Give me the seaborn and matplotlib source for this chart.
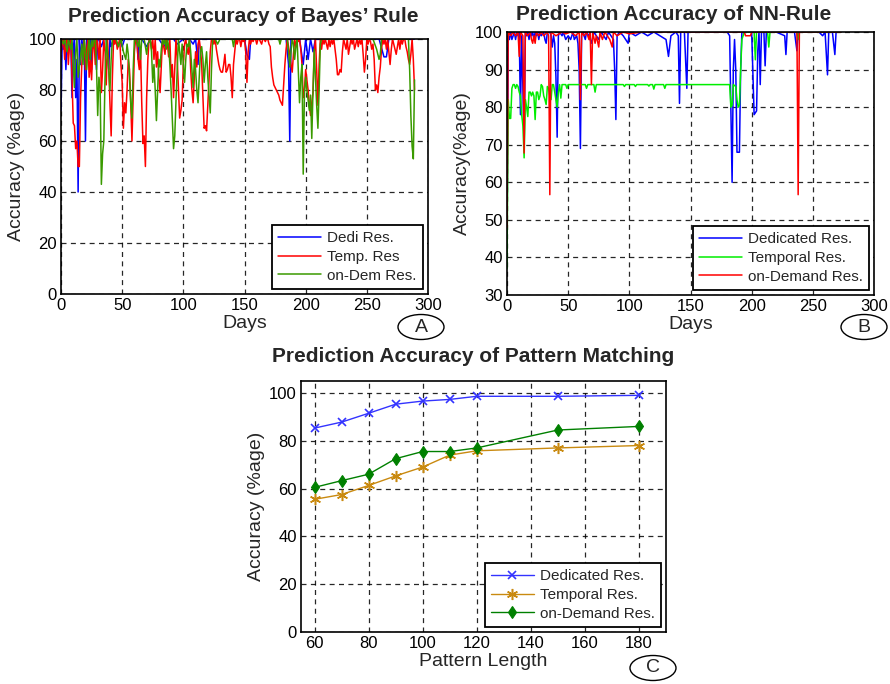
import numpy as np
import matplotlib
matplotlib.use("Agg")
import matplotlib.pyplot as plt
from matplotlib.patches import Ellipse
import seaborn as sns

sns.set_style("white")
plt.rcParams['font.family'] = ['Liberation Sans', 'DejaVu Sans']

# ---------------- panel A : Bayes' rule (value per day) ----------------
bayes_dedi_days = [0, 1, 2, 3, 4, 5, 6, 7, 8, 9, 10, 11, 12, 13, 14, 15, 16, 17, 18, 19,
                   20, 21, 22, 23, 24, 25, 26, 27, 28, 29, 30, 31, 33, 35, 37, 39, 40, 41,
                   43, 45, 48, 50, 52, 55, 58, 60, 62, 63, 64, 66, 70, 73, 76, 80, 84, 88,
                   92, 95, 100, 105, 108, 110, 112, 113, 115, 120, 125, 130, 140, 150, 152,
                   154, 155, 157, 160, 170, 180, 184, 186, 187, 188, 190, 195, 198, 200,
                   202, 204, 206, 208, 212, 220, 230, 240, 250, 260, 264, 266, 268, 270,
                   280, 289]
bayes_dedi = [72, 100, 96, 100, 88, 100, 94, 100, 100, 77, 95, 100, 77, 92, 40, 100, 90, 100, 96, 100,
              60, 100, 100, 92, 100, 88, 100, 100, 97, 88, 100, 100, 97, 100, 100, 88, 100, 97,
              100, 100, 100, 97, 100, 100, 100, 100, 100, 92, 100, 100, 97, 100, 100, 100, 97, 100,
              100, 98, 100, 100, 98, 100, 90, 100, 100, 100, 100, 100, 100, 100, 94,
              92, 100, 100, 100, 100, 100, 100, 90, 60, 100, 100, 100, 90, 100,
              92, 100, 95, 100, 100, 100, 100, 100, 100, 100, 93, 93, 100, 100,
              100, 100]

bayes_temp = [95, 98, 100, 92, 99, 100, 90, 98, 100, 85,
              67, 66, 57, 60, 50, 50, 77, 90, 95, 100,
              88, 96, 100, 85, 92, 84, 96, 100, 90, 100,
              98, 92, 100, 79, 88, 100, 95, 82, 100, 90,
              75, 62, 85, 100, 98, 100, 96, 98, 100, 90,
              83, 65, 75, 71, 80, 92, 88, 75, 60, 78,
              95, 100, 100, 92, 88, 96, 75, 59, 62, 50,
              77, 92, 100, 100, 96, 100, 92, 100, 89, 95,
              85, 79, 90, 100, 97, 94, 100, 98, 93, 100,
              85, 90, 77, 88, 100, 92, 80, 69, 72, 76,
              90, 98, 100, 96, 94, 100, 88, 80, 75, 85,
              95, 89, 98, 100, 96, 90, 78, 65, 66, 64,
              74, 84, 95, 100, 100, 98, 100, 96, 93, 90,
              88, 87, 87, 90, 94, 87, 88, 90, 90, 85,
              77, 90, 95, 100, 98, 100, 100, 97, 100, 99,
              100, 95, 83, 95, 100, 98, 100, 99, 100, 100,
              98, 100, 100, 99, 98, 100, 100, 99, 100, 100,
              98, 97, 89, 85, 82, 81, 80, 79, 78, 76,
              75, 74, 82, 90, 96, 100, 97, 94, 90, 87,
              94, 100, 97, 100, 99, 100, 96, 90, 77, 80,
              88, 84, 80, 74, 70, 75, 79, 95, 100, 88,
              74, 90, 100, 96, 100, 98, 100, 98, 96, 100,
              97, 100, 98, 100, 96, 92, 86, 86, 88, 87,
              95, 100, 98, 96, 100, 94, 97, 100, 98, 100,
              96, 98, 100, 97, 100, 98, 100, 94, 87, 92,
              100, 98, 100, 99, 96, 98, 92, 80, 82, 79,
              85, 89, 96, 100, 98, 100, 96, 100, 95, 90,
              96, 100, 98, 96, 94, 97, 100, 96, 100, 98,
              100, 100, 97, 95, 92, 90, 94, 100, 92, 80]
bayes_temp_days = np.arange(len(bayes_temp))

bayes_dem_days = [0, 2, 3, 5, 6, 8, 9, 10, 11, 12, 13, 14, 15, 16, 17, 18, 19, 20, 21, 22,
                  23, 24, 25, 26, 27, 28, 29, 30, 31, 32, 33, 34, 35, 36, 37, 38, 39, 40,
                  41, 42, 43, 45, 47, 49, 51, 53, 54, 55, 56, 57, 58, 59, 60, 61, 63, 64,
                  65, 66, 68, 70, 71, 73, 74, 75, 76, 77, 78, 79, 80, 81, 82, 83, 84, 85,
                  86, 87, 88, 89, 90, 91, 92, 93, 94, 95, 96, 97, 98, 99, 100, 101, 102,
                  103, 104, 105, 106, 107, 108, 109, 110, 111, 112, 113, 114, 115, 116,
                  117, 118, 119, 120, 121, 122, 123, 124, 126, 128, 130, 135, 140, 141,
                  142, 150, 160, 170, 178, 179, 180, 185, 186, 187, 188, 189, 190, 191,
                  192, 193, 194, 195, 196, 197, 198, 199, 200, 201, 202, 203, 204, 205,
                  206, 207, 208, 209, 210, 211, 212, 213, 220, 230, 240, 250, 255, 258,
                  260, 261, 262, 270, 280, 284, 285, 286, 287, 288, 289]
bayes_dem = [100, 98, 100, 95, 100, 96, 100, 90, 81, 95, 100, 85, 89, 93, 98, 90, 100, 95, 88, 96,
             100, 92, 100, 97, 100, 100, 90, 70, 85, 81, 43, 55, 60, 85, 100, 95, 88, 80,
             92, 100, 100, 100, 97, 100, 95, 92, 98, 94, 85, 75, 69, 88, 100, 100, 97, 100,
             92, 100, 100, 94, 98, 100, 95, 83, 90, 80, 68, 80, 92, 89, 96, 100, 98, 100,
             96, 100, 97, 90, 80, 68, 57, 62, 76, 88, 100, 95, 90, 98, 90, 83, 92,
             98, 97, 100, 95, 88, 81, 92, 88, 80, 75, 85, 95, 97, 92,
             83, 90, 95, 85, 78, 71, 88, 100, 100, 98, 100, 100, 100, 97,
             100, 100, 100, 100, 100, 98, 100, 100, 95, 89, 95, 100, 98, 92,
             97, 100, 88, 75, 85, 90, 47, 79, 85, 80, 76, 72, 78, 61,
             80, 96, 85, 74, 65, 80, 98, 100, 100, 100, 100, 100, 100, 96,
             92, 94, 100, 100, 100, 100, 88, 70, 58, 53, 84]

# ---------------- panel B : NN rule ----------------
nn_dedi_days = [0, 1, 2, 3, 4, 5, 6, 7, 8, 9, 10, 11, 12, 13, 14, 15, 16, 17, 18, 19, 20,
                21, 22, 23, 24, 25, 26, 27, 28, 30, 31, 32, 33, 35, 36, 37, 38, 39, 40, 41,
                42, 43, 45, 46, 48, 50, 52, 54, 55, 57, 58, 59, 60, 61, 62, 64, 65, 67, 69,
                71, 73, 75, 77, 79, 81, 83, 85, 87, 88, 89, 90, 92, 95, 97, 99, 100, 105,
                110, 115, 120, 125, 130, 132, 134, 138, 140, 141, 142, 145, 147, 148, 150,
                160, 170, 180, 182, 183, 184, 185, 186, 187, 188, 190, 191, 192, 200, 202,
                204, 205, 206, 207, 208, 210, 211, 212, 220, 227, 228, 229, 235, 237, 238,
                245, 255, 258, 260, 262, 263, 266, 268, 269, 273]
nn_dedi = [45, 99, 98, 100, 98, 99, 100, 98, 100, 99, 100, 78, 99, 85, 69, 100, 99, 100, 98, 100, 99,
           100, 98, 100, 99, 100, 98, 100, 99, 100, 98, 97, 100, 100, 99, 96, 99, 97, 88, 72,
           99, 100, 99, 100, 98, 99, 98, 100, 98, 99, 97, 90, 69, 99, 100, 98, 100, 99, 97,
           100, 99, 98, 100, 99, 98, 100, 99, 98, 90, 76.7, 99, 100, 99, 98, 97, 100, 99,
           100, 99, 100, 99, 98, 93.5, 99, 100, 99, 81, 100, 100, 85, 100, 100,
           100, 100, 100, 99, 80, 60, 90, 98, 90, 68, 68, 90, 100, 100, 78,
           79, 95, 100, 86, 100, 100, 91, 100, 100, 99, 94, 100, 100, 95, 100,
           100, 100, 99, 100, 88.6, 100, 100, 94, 100, 100]

nn_temp_days = [0, 1, 2, 3, 4, 5, 6, 7, 8, 9, 10, 11, 12, 13, 14, 15, 16, 17, 18, 19, 20,
                21, 22, 23, 24, 25, 26, 27, 28, 29, 30, 31, 32, 33, 34, 35, 36, 37, 38, 39,
                40, 41, 42, 43, 44, 45, 48, 49, 50, 64, 65, 66, 71, 72, 73, 95, 96, 97, 104,
                105, 106, 115, 116, 117, 119, 120, 121, 128, 129, 130, 182, 183, 184, 185,
                187, 188, 189, 190, 191, 192, 194, 202, 203, 204, 213, 214, 215, 237, 238,
                239, 273]
nn_temp = [37, 82, 77, 77, 85, 86, 86, 85, 86, 85.5, 84, 83, 78, 75, 66.5, 82, 80, 77.5, 84, 84, 83,
           84, 83, 76.7, 84, 84, 82, 83, 86, 85.5, 83, 82, 80.7, 85.5, 85, 83, 82, 86, 86, 84,
           82, 80, 84, 86, 82.4, 86, 86, 85, 86, 86, 85, 86, 86, 84, 86, 86, 85.5, 86, 86,
           85.5, 86, 86, 85.6, 86, 86, 84.8, 86, 86, 85, 86, 86, 80, 80.5, 86,
           85.5, 82, 80, 80.5, 90, 98, 100, 100, 92.6, 100, 100, 96, 100, 100, 98,
           100, 100]

nn_dem_days = [0, 1, 3, 5, 7, 9, 10, 11, 13, 14, 15, 17, 19, 20, 21, 22, 23, 24, 26, 28,
               30, 33, 34, 35, 36, 40, 45, 48, 52, 56, 59, 60, 61, 63, 65, 67, 68, 69, 70,
               72, 73, 75, 76, 78, 80, 84, 86, 87, 90, 95, 100, 110, 194, 195, 199, 200,
               237, 238, 239, 273]
nn_dem = [48, 100, 99, 100, 99, 100, 93.5, 100, 99, 67.8, 100, 99, 100, 98, 97, 99, 97, 100, 99, 100,
          99, 100, 99, 56.7, 100, 99, 100, 99.5, 100, 99, 100, 82, 100, 99, 100, 98, 100, 86, 100,
          97, 99, 96, 100, 98, 100, 98, 96, 100, 99, 100, 99.5, 100, 100, 99, 99, 100,
          100, 56.7, 100, 100]

# ---------------- panel C : pattern matching ----------------
pattern_len = [60, 70, 80, 90, 100, 110, 120, 150, 180]
pm_dedi = [85.3, 87.8, 91.5, 95.3, 96.6, 97.3, 98.6, 98.6, 99.0]
pm_temp = [55.5, 57.5, 61.3, 65.3, 69.0, 74.0, 75.8, 77.0, 78.0]
pm_dem = [60.5, 63.3, 66.0, 72.5, 75.5, 75.5, 77.0, 84.5, 86.0]

W, H = 890, 684
fig = plt.figure(figsize=(W / 100, H / 100), dpi=100)


def px_axes(left, top, right, bottom):
    return fig.add_axes([left / W, 1 - bottom / H, (right - left) / W, (bottom - top) / H])


def style(ax, xlim, ylim, xticks, yticks, xlabel, ylabel):
    ax.set_xlim(*xlim)
    ax.set_ylim(*ylim)
    ax.set_xticks(xticks)
    ax.set_yticks(yticks)
    ax.grid(True, color='k', linestyle=(0, (4, 3.5)), linewidth=0.9, alpha=0.85)
    ax.set_axisbelow(True)
    for s in ax.spines.values():
        s.set_color('k')
        s.set_linewidth(1.2)
    ax.tick_params(direction='in', length=3, labelsize=12, colors='k', pad=3)
    ax.set_xlabel(xlabel, fontsize=14, labelpad=1)
    ax.set_ylabel(ylabel, fontsize=14, labelpad=3)


def legend(ax):
    lg = ax.legend(loc='lower right', fontsize=11, frameon=True, fancybox=False,
                   edgecolor='k', framealpha=1, borderaxespad=0.35, handlelength=2.8,
                   labelspacing=0.3, borderpad=0.4, handletextpad=0.4)
    lg.get_frame().set_linewidth(1.3)


def badge(cx, cy, letter):
    fig.add_artist(Ellipse((cx / W, 1 - cy / H), 46 / W, 25 / H, transform=fig.transFigure,
                           fill=False, ec='k', lw=1))
    fig.text(cx / W, 1 - cy / H, letter, ha='center', va='center', fontsize=14)


# panel A
axA = px_axes(61, 39, 428, 294)
sns.lineplot(x=bayes_dedi_days, y=bayes_dedi, ax=axA, color='#0000ff', lw=1.1,
             estimator=None, sort=False, label='Dedi Res.')
sns.lineplot(x=bayes_temp_days, y=bayes_temp, ax=axA, color='#ff0000', lw=1.1,
             estimator=None, sort=False, label='Temp. Res')
sns.lineplot(x=bayes_dem_days, y=bayes_dem, ax=axA, color='#3a9a00', lw=1.1,
             estimator=None, sort=False, label='on-Dem Res.')
style(axA, (0, 300), (0, 100), range(0, 301, 50), range(0, 101, 20), 'Days', 'Accuracy (%age)')
legend(axA)
fig.text(243 / W, 1 - 17 / H, "Prediction Accuracy of Bayes’ Rule", ha='center', va='center',
         fontsize=15, fontweight='bold')
badge(421, 327, 'A')

# panel B
axB = px_axes(507, 32, 874, 295)
sns.lineplot(x=nn_dedi_days, y=nn_dedi, ax=axB, color='#0000ff', lw=1.1,
             estimator=None, sort=False, label='Dedicated Res.')
sns.lineplot(x=nn_temp_days, y=nn_temp, ax=axB, color='#00ee00', lw=1.1,
             estimator=None, sort=False, label='Temporal Res.')
sns.lineplot(x=nn_dem_days, y=nn_dem, ax=axB, color='#ff0000', lw=1.1,
             estimator=None, sort=False, label='on-Demand Res.')
style(axB, (0, 300), (30, 100), range(0, 301, 50), range(30, 101, 10), 'Days', 'Accuracy(%age)')
legend(axB)
fig.text(674 / W, 1 - 15 / H, "Prediction Accuracy of NN-Rule", ha='center', va='center',
         fontsize=15, fontweight='bold')
badge(864, 327, 'B')

# panel C
axC = px_axes(301, 381, 666, 632)
sns.lineplot(x=pattern_len, y=pm_dedi, ax=axC, color='#3333ff', lw=1, marker='x', ms=6,
             mew=1.2, mec='#3333ff', label='Dedicated Res.')
sns.lineplot(x=pattern_len, y=pm_temp, ax=axC, color='#c98a10', lw=1, marker=(6, 2, 0), ms=8,
             mew=1.1, mec='#c98a10', label='Temporal Res.')
sns.lineplot(x=pattern_len, y=pm_dem, ax=axC, color='#008000', lw=1, marker='d', ms=6,
             mew=0.8, mec='#008000', label='on-Demand Res.')
style(axC, (55, 190), (0, 105), range(60, 181, 20), range(0, 101, 20), 'Pattern Length',
      'Accuracy (%age)')
legend(axC)
fig.text(473 / W, 1 - 357 / H, "Prediction Accuracy of Pattern Matching", ha='center',
         va='center', fontsize=15, fontweight='bold')
badge(653, 668, 'C')

fig.savefig('out.png', dpi=100)
